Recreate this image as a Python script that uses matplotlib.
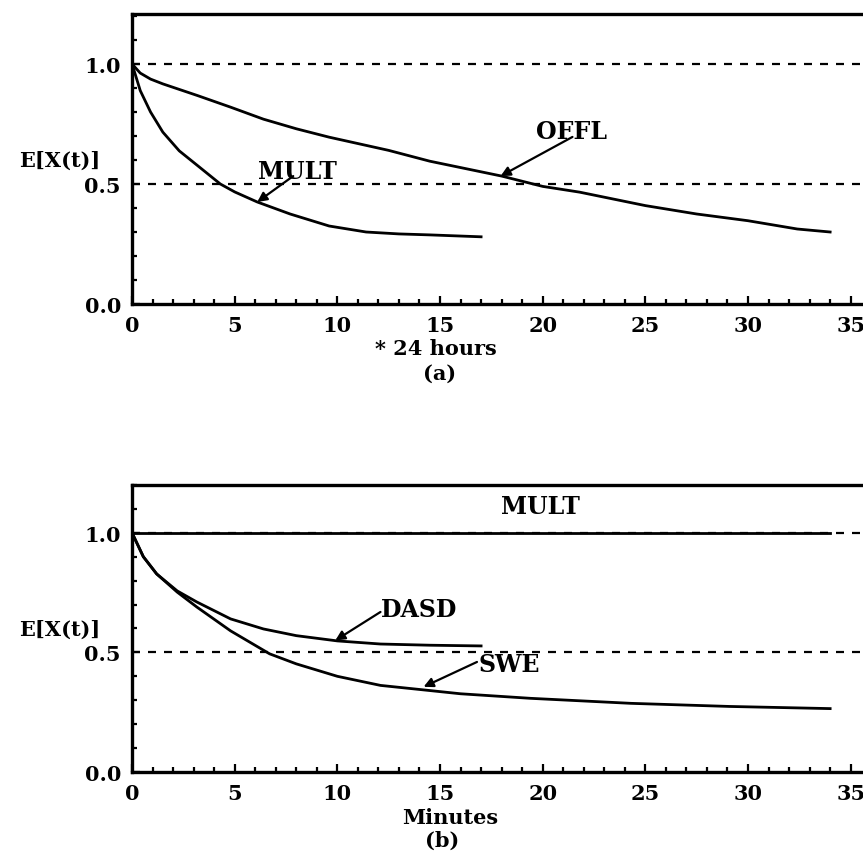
import numpy as np
import matplotlib.pyplot as plt
from matplotlib.ticker import MultipleLocator, FormatStrFormatter

# Panel (a): time in units of 24 hours
offl_t = [0, 0.4, 0.9, 1.5, 3.2, 4.8, 6.4, 8, 9.6, 12.5, 14.5, 18, 20, 21.8, 25,
          27.5, 30, 32.4, 34]
offl_y = [1.0, 0.962, 0.937, 0.917, 0.868, 0.82, 0.77, 0.73, 0.695, 0.64, 0.595, 0.533,
          0.49, 0.466, 0.41, 0.375, 0.347, 0.3125, 0.30]
mult_a_t = [0, 0.4, 0.9, 1.5, 2.3, 3.2, 4.3, 5, 6.1, 7.7, 9.6, 11.4, 13, 14.5, 17]
mult_a_y = [1.0, 0.889, 0.80, 0.716, 0.638, 0.576, 0.50, 0.467, 0.425, 0.375, 0.325,
            0.30, 0.292, 0.288, 0.28]

# Panel (b): time in minutes
mult_b_t = [0, 34]
mult_b_y = [1.0, 1.0]
dasd_t = [0, 0.55, 1.2, 2.2, 3.15, 4.8, 6.4, 8, 10, 12.1, 14.5, 17]
dasd_y = [1.0, 0.90, 0.828, 0.757, 0.711, 0.64, 0.598, 0.57, 0.548, 0.535, 0.53, 0.527]
swe_t = [0, 0.55, 1.2, 2.2, 3.15, 4.8, 6.7, 8, 10, 12.1, 14, 16, 19.4, 24.3, 29.1, 34]
swe_y = [1.0, 0.90, 0.828, 0.752, 0.69, 0.59, 0.494, 0.452, 0.40, 0.362, 0.345, 0.327,
         0.308, 0.287, 0.274, 0.265]

ref_levels = [0.5, 1.0]
y_ticks = [0.0, 0.5, 1.0]
x_ticks = [0, 5, 10, 15, 20, 25, 30, 35]

plt.rcParams['font.family'] = ['DejaVu Serif']
plt.rcParams['font.weight'] = 'bold'

fig = plt.figure(figsize=(8.63, 8.53), dpi=100)
ax_a = fig.add_axes([0.153, 0.6424, 0.8565, 0.340])
ax_b = fig.add_axes([0.153, 0.0938, 0.8565, 0.3365])


def style_axes(ax, ytop):
    ax.set_xlim(0, 36)
    ax.set_ylim(0, ytop)
    for lvl in ref_levels:
        ax.axhline(lvl, color='black', lw=1.6, ls=(0, (3.6, 3.6)), zorder=1)
    for s in ax.spines.values():
        s.set_linewidth(2.4)
    ax.set_xticks(x_ticks)
    ax.set_yticks(y_ticks)
    ax.yaxis.set_major_formatter(FormatStrFormatter('%.1f'))
    ax.xaxis.set_minor_locator(MultipleLocator(1))
    ax.yaxis.set_minor_locator(MultipleLocator(0.1))
    ax.tick_params(which='both', direction='in', width=1.6, labelsize=15,
                   top=False, right=False)
    ax.tick_params(which='major', length=6, pad=8)
    ax.tick_params(which='minor', length=3.5)
    ax.text(-0.043, 0.60, 'E[X(t)]', transform=ax.get_yaxis_transform(),
            ha='right', va='center', fontsize=15)


arrow = dict(arrowstyle='-|>', color='black', lw=1.6, mutation_scale=14,
             shrinkA=0, shrinkB=0)
line_kw = dict(color='black', lw=2.0, zorder=3, solid_joinstyle='round')

# (a)
style_axes(ax_a, 1.208)
ax_a.plot(offl_t, offl_y, **line_kw)
ax_a.plot(mult_a_t, mult_a_y, **line_kw)
ax_a.text(8.04, 0.556, 'MULT', ha='center', va='center', fontsize=17)
ax_a.annotate('', xy=(6.1, 0.425), xytext=(7.85, 0.533), arrowprops=arrow)
ax_a.text(21.4, 0.722, 'OFFL', ha='center', va='center', fontsize=17)
ax_a.annotate('', xy=(17.95, 0.533), xytext=(21.45, 0.696), arrowprops=arrow)
xt = ax_a.get_xaxis_transform()
ax_a.text(14.8, -0.152, '* 24 hours', transform=xt, ha='center', va='center', fontsize=15)
ax_a.text(15.0, -0.238, '(a)', transform=xt, ha='center', va='center', fontsize=15)

# (b)
style_axes(ax_b, 1.2)
ax_b.plot(mult_b_t, mult_b_y, **line_kw)
ax_b.plot(dasd_t, dasd_y, **line_kw)
ax_b.plot(swe_t, swe_y, **line_kw)
ax_b.text(19.9, 1.11, 'MULT', ha='center', va='center', fontsize=17)
ax_b.text(12.1, 0.68, 'DASD', ha='left', va='center', fontsize=17)
ax_b.annotate('', xy=(9.9, 0.55), xytext=(12.1, 0.669), arrowprops=arrow)
ax_b.text(16.85, 0.45, 'SWE', ha='left', va='center', fontsize=17)
ax_b.annotate('', xy=(14.2, 0.356), xytext=(16.8, 0.46), arrowprops=arrow)
xt = ax_b.get_xaxis_transform()
ax_b.text(15.5, -0.157, 'Minutes', transform=xt, ha='center', va='center', fontsize=15)
ax_b.text(15.1, -0.237, '(b)', transform=xt, ha='center', va='center', fontsize=15)

fig.savefig('out.png', dpi=100)
